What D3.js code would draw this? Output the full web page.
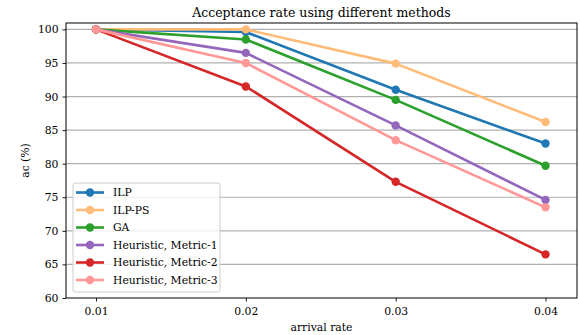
<!DOCTYPE html>
<html>
<head>
<meta charset="utf-8">
<script src="https://cdn.jsdelivr.net/npm/d3@7"></script>
<style>
  body { margin: 0; background: #fff; }
</style>
</head>
<body>
<div class="viz"></div>
<script>
var rates = [ 0.01, 0.02, 0.03, 0.04 ],
    methods = [ "ILP", "ILP-PS", "GA", "Heuristic, Metric-1", "Heuristic, Metric-2", "Heuristic, Metric-3" ],
    colors = [ "#1f77b4", "#ffbb78", "#2ca02c", "#9467bd", "#d62728", "#ff9896" ],
    ilp = [ 100, 99.6, 91.0, 83.0 ],
    ilpPs = [ 100, 100, 94.9, 86.2 ],
    ga = [ 100, 98.5, 89.5, 79.7 ],
    metric1 = [ 100, 96.5, 85.7, 74.6 ],
    metric2 = [ 100, 91.5, 77.3, 66.5 ],
    metric3 = [ 100, 95.0, 83.5, 73.5 ],
    yTicks = [ 60, 65, 70, 75, 80, 85, 90, 95, 100 ];

var series = [ ilp, ilpPs, ga, metric1, metric2, metric3 ];
var serif = "'DejaVu Serif', 'Liberation Serif', serif";

var W = 580, H = 335,
    margin = { top: 23, right: 3, bottom: 37, left: 66 },
    width = W - margin.left - margin.right,
    height = H - margin.top - margin.bottom;

var svg = d3.select( ".viz" ).append( "svg" )
    .attr( "width", W )
    .attr( "height", H )
    .attr( "font-family", serif );

var g = svg.append( "g" )
    .attr( "transform", "translate(" + margin.left + "," + margin.top + ")" );

var x = d3.scaleLinear().domain( [ 0.008, 0.0421 ] ).range( [ 0, width ] );
var y = d3.scaleLinear().domain( [ 60, 100.95 ] ).range( [ height, 0 ] );

// horizontal grid
g.selectAll( ".grid" )
    .data( yTicks.slice( 1 ) )
    .enter().append( "line" )
    .attr( "x1", 0 ).attr( "x2", width )
    .attr( "y1", d => y( d ) ).attr( "y2", d => y( d ) )
    .attr( "stroke", "#b0b0b0" )
    .attr( "stroke-width", 1.2 );

// lines + markers
var line = d3.line()
    .x( ( d, i ) => x( rates[ i ] ) )
    .y( d => y( d ) );

series.forEach( function( s, k ) {
    g.append( "path" )
        .datum( s )
        .attr( "d", line )
        .attr( "fill", "none" )
        .attr( "stroke", colors[ k ] )
        .attr( "stroke-width", 2.6 )
        .attr( "stroke-linejoin", "round" );
    g.selectAll( ".pt" + k )
        .data( s )
        .enter().append( "circle" )
        .attr( "cx", ( d, i ) => x( rates[ i ] ) )
        .attr( "cy", d => y( d ) )
        .attr( "r", 4.2 )
        .attr( "fill", colors[ k ] );
} );

// axes
var xAxis = g.append( "g" )
    .attr( "transform", "translate(0," + height + ")" )
    .call( d3.axisBottom( x ).tickValues( rates ).tickFormat( d3.format( ".2f" ) ).tickSize( 3.5 ).tickPadding( 6 ) );
var yAxis = g.append( "g" )
    .call( d3.axisLeft( y ).tickValues( yTicks ).tickSize( 3.5 ).tickPadding( 4 ) );
[ xAxis, yAxis ].forEach( function( a ) {
    a.attr( "font-family", serif );
    a.select( ".domain" ).remove();
    a.selectAll( "line" ).attr( "stroke", "#000" ).attr( "stroke-width", 0.9 );
    a.selectAll( "text" ).style( "font-size", "10.8px" ).attr( "fill", "#000" );
} );

// frame
g.append( "rect" )
    .attr( "width", width ).attr( "height", height )
    .attr( "fill", "none" ).attr( "stroke", "#000" ).attr( "stroke-width", 1 );

// title and labels
svg.append( "text" )
    .attr( "x", margin.left + width / 2 ).attr( "y", 17 )
    .attr( "text-anchor", "middle" )
    .style( "font-size", "12.5px" )
    .text( "Acceptance rate using different methods" );
svg.append( "text" )
    .attr( "x", margin.left + width / 2 ).attr( "y", 331 )
    .attr( "text-anchor", "middle" )
    .style( "font-size", "10.8px" )
    .text( "arrival rate" );
svg.append( "text" )
    .attr( "transform", "translate(29," + ( margin.top + height / 2 ) + ") rotate(-90)" )
    .attr( "text-anchor", "middle" )
    .style( "font-size", "10.8px" )
    .text( "ac (%)" );

// legend
var legend = g.append( "g" ).attr( "transform", "translate(7,160)" );
legend.append( "rect" )
    .attr( "width", 147 ).attr( "height", 109 )
    .attr( "rx", 2.5 )
    .attr( "fill", "#fff" ).attr( "fill-opacity", 0.8 )
    .attr( "stroke", "#ccc" ).attr( "stroke-width", 1 );
var items = legend.selectAll( ".legend" )
    .data( methods )
    .enter().append( "g" )
    .attr( "class", "legend" )
    .attr( "transform", ( d, i ) => "translate(0," + ( 9.5 + i * 17.5 ) + ")" );
items.append( "line" )
    .attr( "x1", 3 ).attr( "x2", 31 )
    .attr( "stroke", ( d, i ) => colors[ i ] )
    .attr( "stroke-width", 2.6 );
items.append( "circle" )
    .attr( "cx", 17 ).attr( "r", 4.2 )
    .attr( "fill", ( d, i ) => colors[ i ] );
items.append( "text" )
    .attr( "x", 40 ).attr( "dy", "0.35em" )
    .style( "font-size", "10.8px" )
    .text( d => d );
</script>
</body>
</html>
